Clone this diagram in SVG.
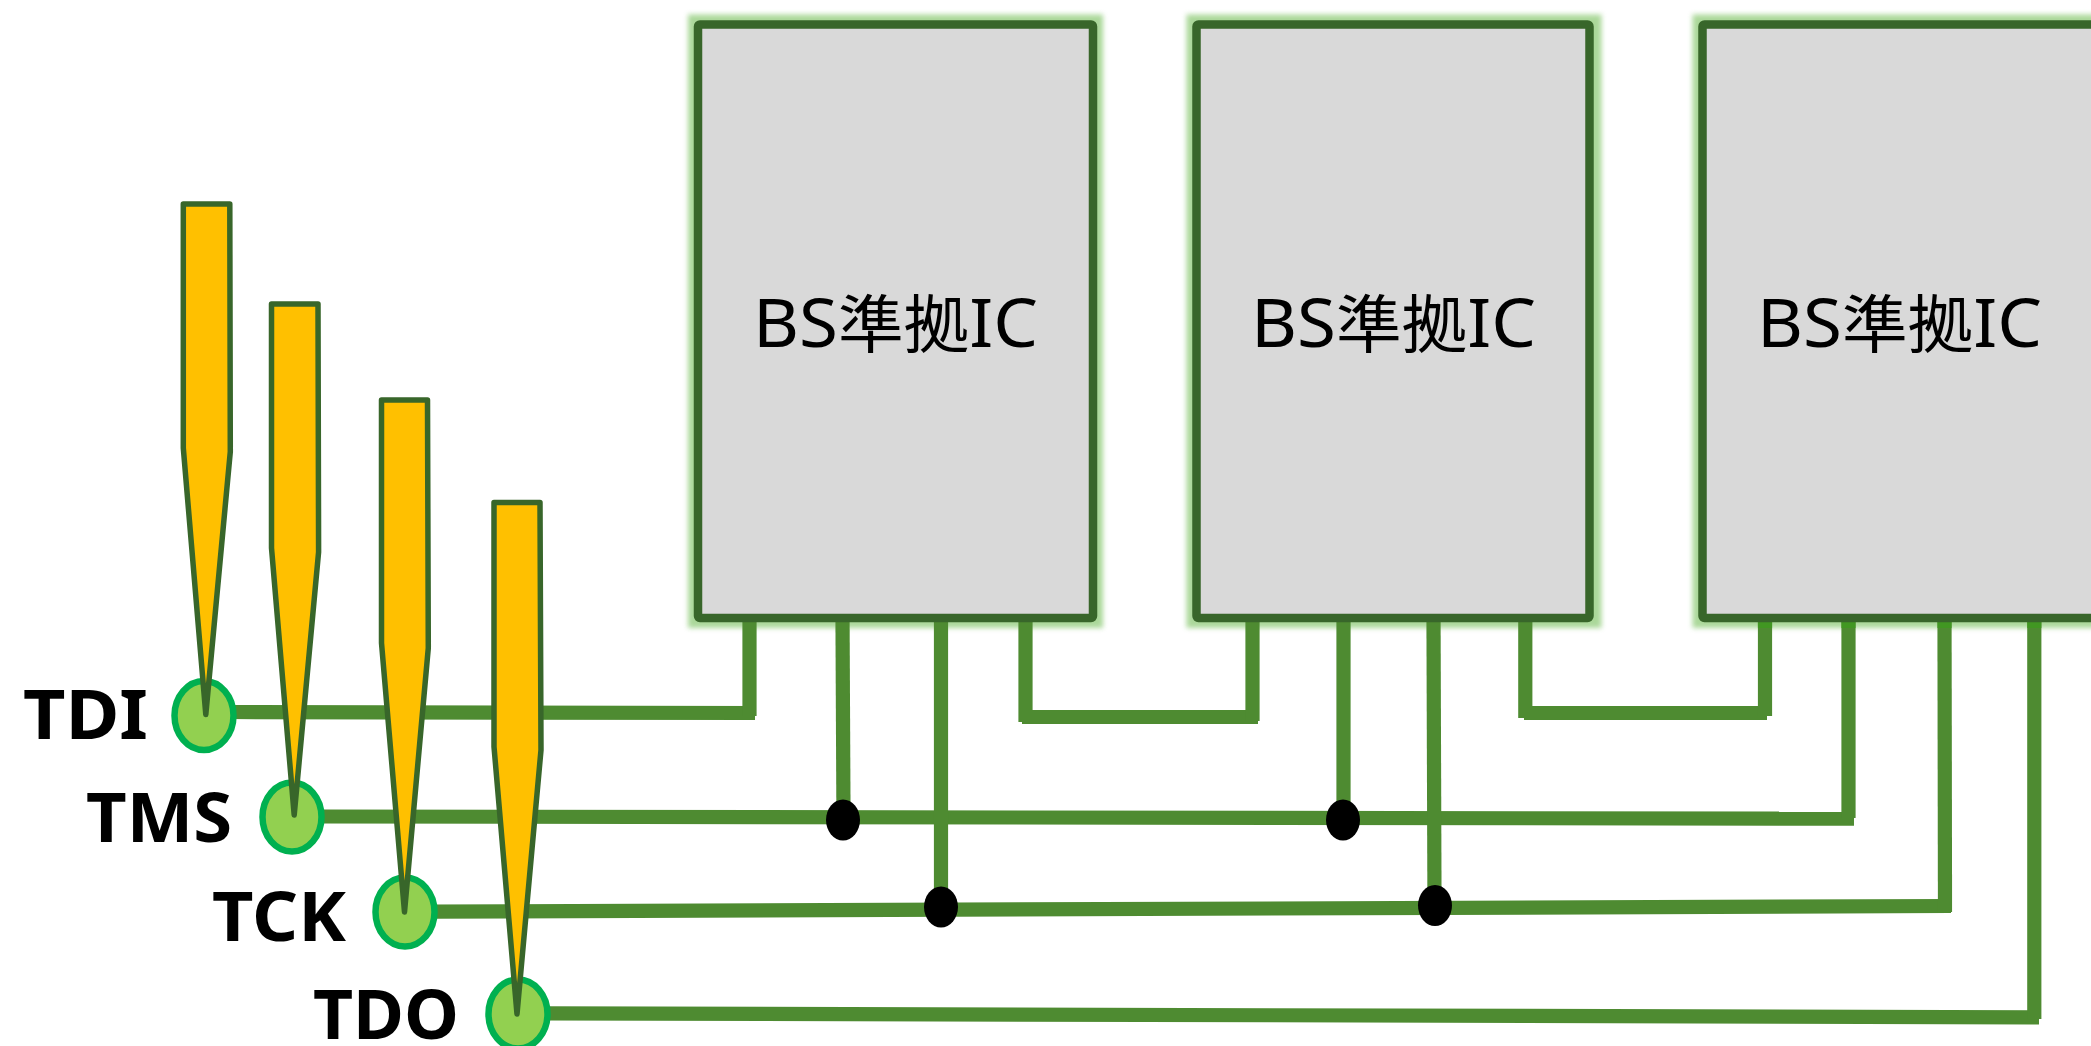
<svg xmlns="http://www.w3.org/2000/svg" width="2091" height="1046" viewBox="0 0 2091 1046">
<style>
.w{stroke:#4E8B31;stroke-width:14.2;fill:none}
.b{fill:#D9D9D9;stroke:#38662A;stroke-width:8.5;stroke-linejoin:round}
.g{fill:none;stroke:#8FCB78;stroke-width:20;opacity:.75;filter:url(#blur)}
.t{font-family:"Noto Sans","Noto Sans CJK JP",sans-serif;font-size:63px;fill:#000}
.t tspan{font-size:68px}
.l{font-family:"Noto Sans",sans-serif;font-weight:700;font-size:69px;fill:#000}
.e{fill:#92D050;stroke:#00B050;stroke-width:6.5}
.p{fill:#FFC000;stroke:#38662A;stroke-width:5.5;stroke-linejoin:round}
.d{fill:#000}
.h{stroke:#3F9A1F;stroke-width:14.2;opacity:.8}
</style>
<defs><filter id="blur" x="-5%" y="-5%" width="110%" height="110%"><feGaussianBlur stdDeviation="2.5"/></filter></defs>
<rect width="2091" height="1046" fill="#fff"/>
<g id="glows">
<rect class="g" x="698" y="24.5" width="395" height="593.5"/>
<rect class="g" x="1196.5" y="24.5" width="395" height="593.5"/>
<rect class="g" x="1702.5" y="24.5" width="450" height="593.5"/>
</g>
<g id="connectors">
<line class="w" x1="230" y1="712" x2="755" y2="713"/>
<line class="w" x1="749.5" y1="618" x2="749.5" y2="716"/>
<line class="w" x1="320" y1="816.5" x2="1854" y2="818.7"/>
<line class="w" x1="842.5" y1="618" x2="843.5" y2="820"/>
<line class="w" x1="1343.5" y1="618" x2="1343.5" y2="820"/>
<line class="w" x1="1848.5" y1="618" x2="1848.5" y2="818"/>
<line class="w" x1="432" y1="911.6" x2="1951" y2="906"/>
<line class="w" x1="941" y1="618" x2="941" y2="907"/>
<line class="w" x1="1433.5" y1="618" x2="1434.5" y2="905"/>
<line class="w" x1="1944.5" y1="618" x2="1945" y2="912"/>
<line class="w" x1="545" y1="1013.3" x2="2039" y2="1017.3"/>
<line class="w" x1="2034.3" y1="618" x2="2034.3" y2="1019"/>
<line class="w" x1="1025.5" y1="618" x2="1025.5" y2="722"/>
<line class="w" x1="1022" y1="717" x2="1258" y2="717"/>
<line class="w" x1="1252.5" y1="618" x2="1252.5" y2="721"/>
<line class="w" x1="1525.3" y1="618" x2="1525.3" y2="718"/>
<line class="w" x1="1524" y1="713" x2="1767" y2="713"/>
<line class="w" x1="1765" y1="618" x2="1765" y2="716"/>
<line class="h" x1="1765" y1="620" x2="1765" y2="628"/>
<line class="h" x1="1848.5" y1="620" x2="1848.5" y2="628"/>
<line class="h" x1="1944.5" y1="620" x2="1944.5" y2="628"/>
<line class="h" x1="2034.3" y1="620" x2="2034.3" y2="628"/>
</g>
<g id="junctions">
<ellipse class="d" cx="843" cy="820" rx="17" ry="20.5"/>
<ellipse class="d" cx="941" cy="907" rx="17" ry="20.5"/>
<ellipse class="d" cx="1343" cy="820" rx="17" ry="20.5"/>
<ellipse class="d" cx="1435" cy="905.5" rx="17" ry="20.5"/>
</g>
<g id="ic1"><rect class="b" x="698" y="24.5" width="395" height="593.5" rx="2"/><text class="t" x="753" y="347" textLength="285" lengthAdjust="spacingAndGlyphs"><tspan>BS</tspan>準拠<tspan>IC</tspan></text></g>
<g id="ic2"><rect class="b" x="1196.5" y="24.5" width="393" height="593.5" rx="2"/><text class="t" x="1251" y="347" textLength="285" lengthAdjust="spacingAndGlyphs"><tspan>BS</tspan>準拠<tspan>IC</tspan></text></g>
<g id="ic3"><rect class="b" x="1702.5" y="24.5" width="450" height="593.5" rx="2"/><text class="t" x="1757" y="347" textLength="285" lengthAdjust="spacingAndGlyphs"><tspan>BS</tspan>準拠<tspan>IC</tspan></text></g>
<g id="tdi"><ellipse class="e" cx="204" cy="715.5" rx="29.5" ry="34.5"/><text class="l" x="23" y="738.5" textLength="125" lengthAdjust="spacingAndGlyphs">TDI</text></g>
<g id="tms"><ellipse class="e" cx="292" cy="817" rx="29.5" ry="34.5"/><text class="l" x="86" y="841.7" textLength="146" lengthAdjust="spacingAndGlyphs">TMS</text></g>
<g id="tck"><ellipse class="e" cx="405" cy="912" rx="29.5" ry="34.5"/><text class="l" x="212" y="940.7" textLength="134" lengthAdjust="spacingAndGlyphs">TCK</text></g>
<g id="tdo"><ellipse class="e" cx="518" cy="1014" rx="29.5" ry="34.5"/><text class="l" x="313" y="1039" textLength="146" lengthAdjust="spacingAndGlyphs">TDO</text></g>
<g id="pin1"><polygon class="p" points="183.3,204 229.8,204 230.3,451.7 205.8,714.5 183.3,448"/></g>
<g id="pin2"><polygon class="p" points="271.5,304 318,304 318.6,552 294.2,815 271.5,548"/></g>
<g id="pin3"><polygon class="p" points="381.5,400 427.5,400 428.3,648 404.5,912 381.5,643"/></g>
<g id="pin4"><polygon class="p" points="494,502.5 540,502.5 541,750 517,1014 494,746.7"/></g>
</svg>
